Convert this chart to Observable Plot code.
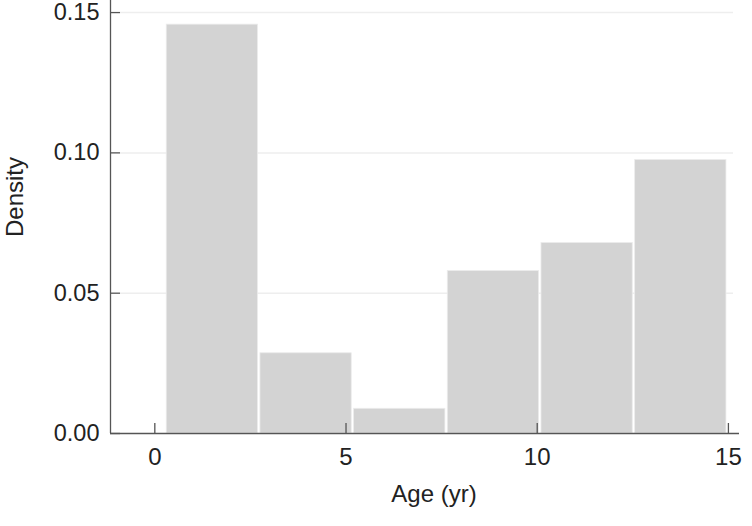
<!DOCTYPE html>
<html>
<head>
<meta charset="utf-8">
<script src="https://cdn.jsdelivr.net/npm/d3@7"></script>
<script src="https://cdn.jsdelivr.net/npm/@observablehq/plot@0.6"></script>
<style>
  html, body { margin: 0; padding: 0; background: #fff; }
  #chart svg { display: block; }
</style>
</head>
<body>
<div id="chart"></div>
<script>
// Bin edges (age, years) and density per bin
const binStart = [0.28, 2.73, 5.18, 7.63, 10.08, 12.53];
const binEnd   = [2.73, 5.18, 7.63, 10.08, 12.53, 14.98];
const density  = [0.1457, 0.0286, 0.0088, 0.0579, 0.0679, 0.0975];
const xTicks = [0, 5, 10, 15];
const yTicks = [0, 0.05, 0.10, 0.15];

const bins = binStart.map((s, i) => ({x1: s, x2: binEnd[i], y: density[i]}));

const W = 752, H = 526;
const mL = 110, mR = 13, mT = 0, mB = 93;
const frameW = W - mL - mR, frameH = H - mT - mB;
const font = "'Liberation Sans', Arial, sans-serif";
const fs = 24;

const chart = Plot.plot({
  width: W,
  height: H,
  marginLeft: mL,
  marginRight: mR,
  marginTop: mT,
  marginBottom: mB,
  style: {fontFamily: font, fontSize: fs + "px", color: "#222", background: "#fff", overflow: "visible"},
  x: {domain: [-1.159, 15.29]},
  y: {domain: [0, 0.1543]},
  marks: [
    Plot.ruleY(yTicks.slice(1), {y: d => d, stroke: "#eeeeee", strokeWidth: 1.5, insetLeft: 10, insetRight: 6}),
    Plot.rectY(bins, {x1: "x1", x2: "x2", y: "y", fill: "#d3d3d3", stroke: "#ececec", strokeWidth: 0.8, insetLeft: 1.2, insetRight: 1.2}),
    Plot.ruleX([-1.159], {stroke: "#555", strokeWidth: 1.3}),
    Plot.ruleY([0], {stroke: "#555", strokeWidth: 1.3}),
    Plot.ruleY(yTicks, {y: d => d, stroke: "#555", strokeWidth: 1.3, insetRight: frameW - 10}),
    Plot.ruleX(xTicks, {x: d => d, stroke: "#555", strokeWidth: 1.3, insetTop: frameH - 10}),
    Plot.axisY(yTicks, {tickSize: 0, tickPadding: 11, tickFormat: d3.format(".2f"), label: null, fontSize: 23.5, fill: "#222"}),
    Plot.axisX(xTicks, {tickSize: 0, tickPadding: 14, label: null, fontSize: fs, fill: "#222"}),
    Plot.text(["Age (yr)"], {frameAnchor: "bottom", textAnchor: "middle", dx: 9, dy: 68, fontSize: fs, fill: "#222"}),
    Plot.text(["Density"], {frameAnchor: "left", textAnchor: "middle", rotate: -90, dx: -95, dy: -20, fontSize: fs, fill: "#222"})
  ]
});
document.getElementById("chart").append(chart);
</script>
</body>
</html>
